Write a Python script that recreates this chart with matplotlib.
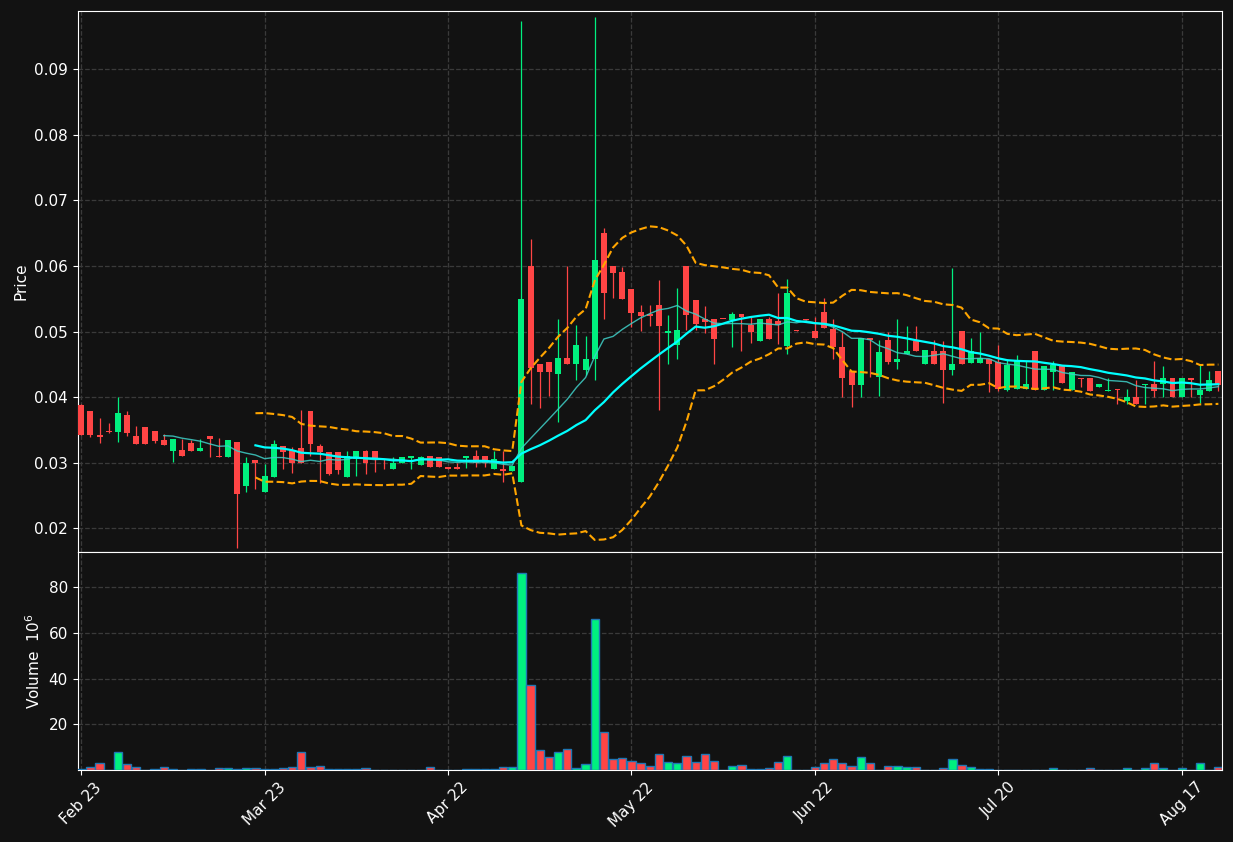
import numpy as np
import pandas as pd
import matplotlib
matplotlib.use("Agg")
import matplotlib.pyplot as plt

# daily candles (price) and volume in millions
opens = [0.0388, 0.0379, 0.0342, 0.0349, 0.03475, 0.0373, 0.0341, 0.0355, 0.0349, 0.0335,
         0.0318, 0.0320, 0.0330, 0.0318, 0.0341, 0.0310, 0.0309, 0.0332, 0.0264, 0.0304,
         0.0255, 0.0279, 0.0326, 0.0320, 0.0323, 0.0379, 0.0326, 0.0317, 0.0316, 0.0279,
         0.0306, 0.0318, 0.0318, 0.0306, 0.0290, 0.0300, 0.0308, 0.0296, 0.0310, 0.0309,
         0.0294, 0.0293, 0.0308, 0.0310, 0.0310, 0.0290, 0.0291, 0.0287, 0.0270, 0.0600,
         0.0451, 0.0454, 0.0436, 0.0460, 0.0450, 0.0441, 0.0458, 0.0650, 0.0600, 0.0591,
         0.0565, 0.0530, 0.0527, 0.0541, 0.0498, 0.0480, 0.0600, 0.0548, 0.0520, 0.0519,
         0.0520, 0.0518, 0.0527, 0.0510, 0.0485, 0.0519, 0.0516, 0.0478, 0.0502, 0.0519,
         0.0501, 0.0530, 0.0504, 0.0477, 0.0440, 0.0418, 0.0490, 0.0431, 0.0488, 0.0454,
         0.0466, 0.0486, 0.0450, 0.0471, 0.0471, 0.0441, 0.0501, 0.0452, 0.0452, 0.0458,
         0.0453, 0.0411, 0.0413, 0.0413, 0.0471, 0.0411, 0.0439, 0.0447, 0.0411, 0.0429,
         0.0429, 0.0416, 0.0410, 0.0412, 0.0394, 0.0400, 0.0419, 0.0420, 0.0420, 0.0430,
         0.0400, 0.0430, 0.0403, 0.0410, 0.0440]
highs = [0.0389, 0.0379, 0.0368, 0.0361, 0.0400, 0.0379, 0.0356, 0.0355, 0.0349, 0.0344,
         0.0336, 0.0336, 0.0335, 0.0336, 0.0341, 0.0338, 0.0335, 0.0332, 0.0309, 0.0304,
         0.0298, 0.0335, 0.0326, 0.0324, 0.0380, 0.0379, 0.0329, 0.0317, 0.0316, 0.0318,
         0.0318, 0.0320, 0.0318, 0.0306, 0.0309, 0.0309, 0.0310, 0.0310, 0.0310, 0.0309,
         0.0294, 0.0300, 0.0310, 0.0320, 0.0310, 0.0318, 0.0318, 0.0295, 0.0974, 0.0641,
         0.0451, 0.0454, 0.0519, 0.0600, 0.0510, 0.0494, 0.0980, 0.0658, 0.0600, 0.0598,
         0.0565, 0.0541, 0.0541, 0.0579, 0.0525, 0.0567, 0.0600, 0.0548, 0.0539, 0.0519,
         0.0520, 0.0530, 0.0527, 0.0522, 0.0519, 0.0522, 0.0559, 0.0580, 0.0502, 0.0519,
         0.0523, 0.0551, 0.0519, 0.0500, 0.0440, 0.0490, 0.0490, 0.0488, 0.0500, 0.0519,
         0.0509, 0.0509, 0.0472, 0.0488, 0.0486, 0.0597, 0.0501, 0.0491, 0.0500, 0.0458,
         0.0480, 0.0458, 0.0464, 0.0456, 0.0471, 0.0448, 0.0455, 0.0447, 0.0438, 0.0429,
         0.0429, 0.0420, 0.0429, 0.0412, 0.0412, 0.0427, 0.0420, 0.0456, 0.0448, 0.0430,
         0.0430, 0.0430, 0.0449, 0.0440, 0.0440]
lows = [0.0342, 0.0340, 0.0330, 0.0346, 0.0332, 0.0341, 0.0329, 0.0329, 0.0330, 0.0327,
        0.0302, 0.0311, 0.0318, 0.0318, 0.0309, 0.0309, 0.0309, 0.0170, 0.0255, 0.0260,
        0.0255, 0.0279, 0.0290, 0.0285, 0.0299, 0.0310, 0.0269, 0.0281, 0.0283, 0.0279,
        0.0280, 0.0283, 0.0286, 0.0291, 0.0290, 0.0300, 0.0291, 0.0296, 0.0293, 0.0293,
        0.0291, 0.0291, 0.0292, 0.0293, 0.0293, 0.0290, 0.0271, 0.0287, 0.0270, 0.0389,
        0.0383, 0.0402, 0.0362, 0.0450, 0.0426, 0.0434, 0.0426, 0.0520, 0.0551, 0.0550,
        0.0507, 0.0501, 0.0509, 0.0380, 0.0450, 0.0459, 0.0503, 0.0503, 0.0498, 0.0450,
        0.0519, 0.0477, 0.0470, 0.0482, 0.0485, 0.0489, 0.0481, 0.0466, 0.0501, 0.0518,
        0.0491, 0.0506, 0.0459, 0.0400, 0.0385, 0.0400, 0.0431, 0.0402, 0.0450, 0.0443,
        0.0466, 0.0471, 0.0450, 0.0450, 0.0391, 0.0434, 0.0450, 0.0452, 0.0452, 0.0408,
        0.0410, 0.0410, 0.0413, 0.0413, 0.0411, 0.0411, 0.0411, 0.0421, 0.0411, 0.0415,
        0.0410, 0.0416, 0.0410, 0.0389, 0.0389, 0.0389, 0.0389, 0.0401, 0.0401, 0.0400,
        0.0400, 0.0401, 0.0391, 0.0410, 0.0410]
closes = [0.0343, 0.0343, 0.0340, 0.0347, 0.03765, 0.0346, 0.0329, 0.0329, 0.0334, 0.0327,
          0.0336, 0.0311, 0.0318, 0.0323, 0.0336, 0.0309, 0.0335, 0.0252, 0.0300, 0.0299,
          0.0280, 0.0329, 0.0317, 0.0299, 0.0299, 0.0329, 0.0317, 0.0283, 0.0289, 0.0310,
          0.0318, 0.0299, 0.0306, 0.0305, 0.0300, 0.0309, 0.0310, 0.0309, 0.0293, 0.0293,
          0.0291, 0.0291, 0.0310, 0.0299, 0.0299, 0.0306, 0.0287, 0.0295, 0.0550, 0.0444,
          0.0438, 0.0439, 0.0460, 0.0450, 0.0480, 0.0458, 0.0610, 0.0559, 0.0590, 0.0550,
          0.0529, 0.0524, 0.0524, 0.0509, 0.0501, 0.0503, 0.0525, 0.0512, 0.0515, 0.0489,
          0.0519, 0.0527, 0.0522, 0.0500, 0.0519, 0.0489, 0.0510, 0.0559, 0.0501, 0.0518,
          0.0491, 0.0506, 0.0476, 0.0430, 0.0418, 0.0490, 0.0487, 0.0469, 0.0454, 0.0458,
          0.0471, 0.0471, 0.0472, 0.0450, 0.0441, 0.0451, 0.0450, 0.0470, 0.0460, 0.0450,
          0.0412, 0.0449, 0.0456, 0.0420, 0.0411, 0.0448, 0.0449, 0.0421, 0.0438, 0.0428,
          0.0410, 0.0420, 0.0411, 0.0411, 0.0400, 0.0389, 0.0420, 0.0410, 0.0429, 0.0400,
          0.0430, 0.0426, 0.0411, 0.0427, 0.0419]
volumes = [0.3, 1.3, 3.0, 0.2, 7.8, 2.6, 1.3, 0.2, 0.3, 1.3,
           0.4, 0.1, 0.4, 0.4, 0.1, 0.9, 1.0, 0.3, 1.0, 1.0,
           0.3, 0.3, 1.0, 1.4, 7.8, 1.4, 1.8, 0.3, 0.3, 0.3,
           0.3, 0.8, 0.1, 0.1, 0.1, 0.1, 0.2, 0.2, 1.2, 0.1,
           0.1, 0.1, 0.3, 0.3, 0.3, 0.3, 1.2, 1.2, 86.1, 37.4,
           8.7, 5.6, 7.8, 9.1, 0.9, 2.8, 66.1, 16.5, 4.8, 5.2,
           3.9, 3.0, 1.7, 6.9, 3.5, 3.0, 6.1, 3.5, 6.9, 3.9,
           0.1, 1.7, 2.0, 0.3, 0.3, 0.8, 3.5, 6.1, 0.1, 0.1,
           1.3, 3.0, 4.8, 3.0, 1.7, 5.6, 3.0, 0.2, 1.7, 1.7,
           1.2, 1.2, 0.1, 0.1, 0.8, 4.8, 2.4, 1.2, 0.3, 0.3,
           0.1, 0.1, 0.1, 0.2, 0.2, 0.2, 0.8, 0.2, 0.2, 0.2,
           0.7, 0.2, 0.2, 0.2, 0.7, 0.2, 0.7, 3.0, 0.7, 0.2,
           0.7, 0.1, 3.0, 0.2, 1.2]
tick_pos = [0, 20, 40, 60, 80, 100, 120]
tick_labels = ["Feb 23", "Mar 23", "Apr 22", "May 22", "Jun 22", "Jul 20", "Aug 17"]

bg = "#121212"
up_col = "#00f07f"
down_col = "#ff4545"
grid_col = "#3a3a3a"

o = np.array(opens)
h = np.array(highs)
l = np.array(lows)
c = np.array(closes)
v = np.array(volumes)
x = np.arange(len(c))
cols = np.where(c >= o, up_col, down_col)

s = pd.Series(c)
ma10 = s.rolling(10).mean()
ma20 = s.rolling(20).mean()
sd20 = s.rolling(20).std(ddof=0)
bb_up = ma20 + 2 * sd20
bb_lo = ma20 - 2 * sd20

fig = plt.figure(figsize=(12.33, 8.42), dpi=100, facecolor=bg)
ax = fig.add_axes([0.0629, 0.3444, 0.9282, 0.6426])
axv = fig.add_axes([0.0629, 0.0855, 0.9282, 0.2589], sharex=ax)

for a in (ax, axv):
    a.set_facecolor(bg)
    for sp in a.spines.values():
        sp.set_color("white")
    a.tick_params(colors="white", labelsize=11)
    a.grid(True, color=grid_col, linestyle="--", linewidth=0.9)
    a.set_axisbelow(True)

# candles
ax.vlines(x, l, h, colors=cols, linewidth=0.9, zorder=2)
body = np.maximum(np.abs(c - o), 0.00012)
ax.bar(x, body, bottom=np.minimum(o, c), width=0.65, color=cols, linewidth=0, zorder=3)

ax.plot(x, ma10, color="#3fd0c8", linewidth=1.0, alpha=0.85, zorder=4)
ax.plot(x, ma20, color="#00ffff", linewidth=1.6, zorder=4)
ax.plot(x, bb_up, color="orange", linestyle="--", linewidth=1.5, zorder=4)
ax.plot(x, bb_lo, color="orange", linestyle="--", linewidth=1.5, zorder=4)

ax.set_ylim(0.0164, 0.0989)
ax.set_yticks([0.02, 0.03, 0.04, 0.05, 0.06, 0.07, 0.08, 0.09])
ax.set_ylabel("Price", color="white", fontsize=11)
ax.tick_params(axis="x", labelbottom=False)

# volume
axv.bar(x, v, width=0.9, color=cols, edgecolor="#1f77b4", linewidth=1.0, zorder=3)
axv.set_ylim(0, 95.4)
axv.set_yticks([20, 40, 60, 80])
axv.set_ylabel("Volume  $10^{6}$", color="white", fontsize=11)

axv.set_xlim(-0.4, len(c) - 0.6)
axv.set_xticks(tick_pos)
axv.set_xticklabels(tick_labels, rotation=45)

fig.savefig("out.png", dpi=100, facecolor=bg)
